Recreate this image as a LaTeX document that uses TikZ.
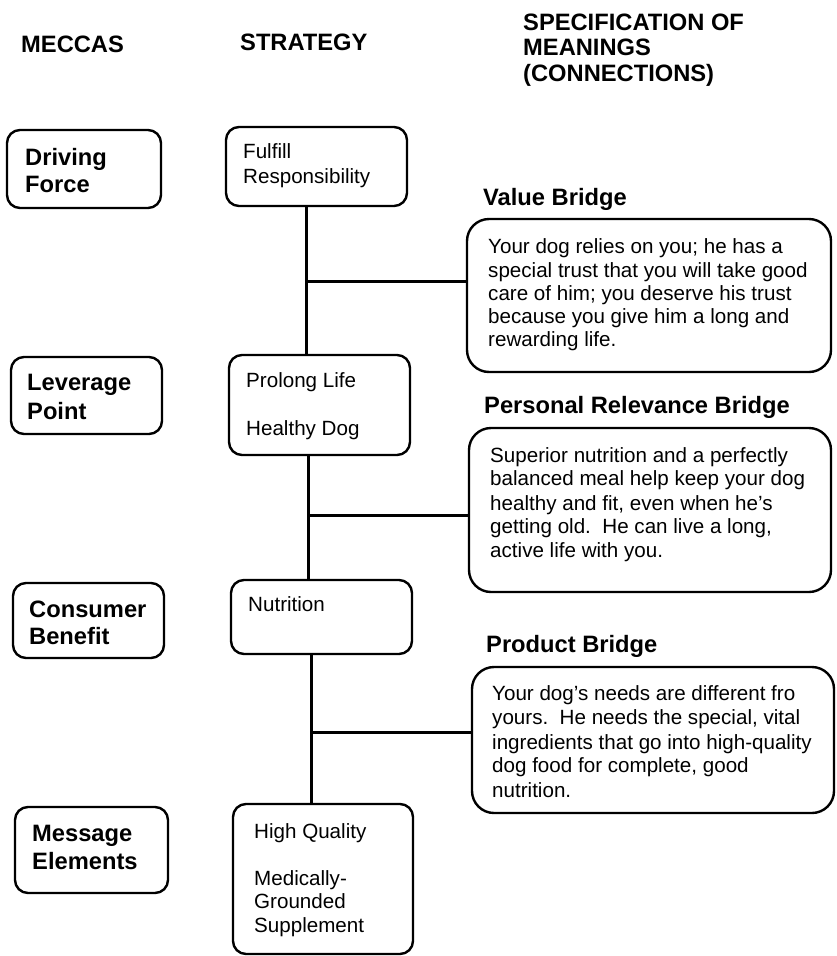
\documentclass[tikz,border=0pt]{standalone}
\usepackage{fontspec}
\setmainfont{Liberation Sans}
\begin{document}
\begin{tikzpicture}[x=1pt,y=-1pt,
  box/.style={draw, line width=2.4pt, rounded corners=13pt, inner sep=0pt, outer sep=0pt, anchor=north west},
  bigbox/.style={box, rounded corners=22pt},
  body/.style={font=\fontsize{20.6}{23.5}\selectfont, anchor=base west, inner sep=0pt},
  head/.style={font=\bfseries\fontsize{23.7}{28}\selectfont, anchor=base west, inner sep=0pt},
  link/.style={line width=3pt}]
\useasboundingbox (0,0) rectangle (836,956);

% column headings
\node[head] (hmeccas) at (21,52) {MECCAS};
\node[head] (hstrat) at (240,50) {STRATEGY};
\node[head] (hspec1) at (523,30) {SPECIFICATION OF};
\node[head] (hspec2) at (523,55) {MEANINGS};
\node[head] (hspec3) at (523,81) {(CONNECTIONS)};

% MECCAS level boxes
\node[box, minimum width=154, minimum height=78] (drive) at (7,130) {};
\node[head] (drive1) at (25,165) {Driving};
\node[head] (drive2) at (25,192) {Force};

\node[box, minimum width=151, minimum height=77] (lever) at (11,357) {};
\node[head] (lever1) at (27,390) {Leverage};
\node[head] (lever2) at (27,419) {Point};

\node[box, minimum width=151, minimum height=75] (benefit) at (13,583) {};
\node[head] (benefit1) at (29,617) {Consumer};
\node[head] (benefit2) at (29,644) {Benefit};

\node[box, minimum width=153, minimum height=86] (message) at (15,807) {};
\node[head] (message1) at (32,841) {Message};
\node[head] (message2) at (32,869) {Elements};

% strategy boxes
\node[box, minimum width=181, minimum height=79] (fulfill) at (226,127) {};
\node[body] (fulfill1) at (243,158) {Fulfill};
\node[body] (fulfill2) at (243,183) {Responsibility};

\node[box, minimum width=181, minimum height=100] (prolong) at (229,355) {};
\node[body] (prolong1) at (246,387) {Prolong Life};
\node[body] (prolong2) at (246,435) {Healthy Dog};

\node[box, minimum width=181, minimum height=74] (nutrition) at (231,580) {};
\node[body] (nutrition1) at (248,611) {Nutrition};

\node[box, minimum width=180, minimum height=150] (quality) at (233,804) {};
\node[body] (quality1) at (254,838) {High Quality};
\node[body] (quality2) at (254,885) {Medically-};
\node[body] (quality3) at (254,908) {Grounded};
\node[body] (quality4) at (254,932) {Supplement};

% bridges
\node[head] (valuelbl) at (483,205) {Value Bridge};
\node[bigbox, minimum width=364, minimum height=153] (value) at (467,219) {};
\node[body] (value1) at (488,253) {Your dog relies on you; he has a};
\node[body] (value2) at (488,277) {special trust that you will take good};
\node[body] (value3) at (488,300) {care of him; you deserve his trust};
\node[body] (value4) at (488,323) {because you give him a long and};
\node[body] (value5) at (488,346) {rewarding life.};

\node[head] (perslbl) at (484,413) {Personal Relevance Bridge};
\node[bigbox, minimum width=362, minimum height=164] (personal) at (469,428) {};
\node[body] (pers1) at (490,462) {Superior nutrition and a perfectly};
\node[body] (pers2) at (490,485) {balanced meal help keep your dog};
\node[body] (pers3) at (490,510) {healthy and fit, even when he's};
\node[body] (pers4) at (490,533) {getting old.\ \ He can live a long,};
\node[body] (pers5) at (490,557) {active life with you.};

\node[head] (prodlbl) at (486,652) {Product Bridge};
\node[bigbox, minimum width=362, minimum height=146] (product) at (472,667) {};
\node[body] (prod1) at (492,700) {Your dog's needs are different fro};
\node[body] (prod2) at (492,724) {yours.\ \ He needs the special, vital};
\node[body] (prod3) at (492,749) {ingredients that go into high-quality};
\node[body] (prod4) at (492,772) {dog food for complete, good};
\node[body] (prod5) at (492,797) {nutrition.};

% spine and bridge connectors
\coordinate (j1) at (306,281);
\coordinate (j2) at (308,515);
\coordinate (j3) at (311,732);
\draw[link] (j1 |- fulfill.south) -- (j1 |- prolong.north);
\draw[link] (j1) -- (j1 -| value.west);
\draw[link] (j2 |- prolong.south) -- (j2 |- nutrition.north);
\draw[link] (j2) -- (j2 -| personal.west);
\draw[link] (j3 |- nutrition.south) -- (j3 |- quality.north);
\draw[link] (j3) -- (j3 -| product.west);
\end{tikzpicture}
\end{document}
